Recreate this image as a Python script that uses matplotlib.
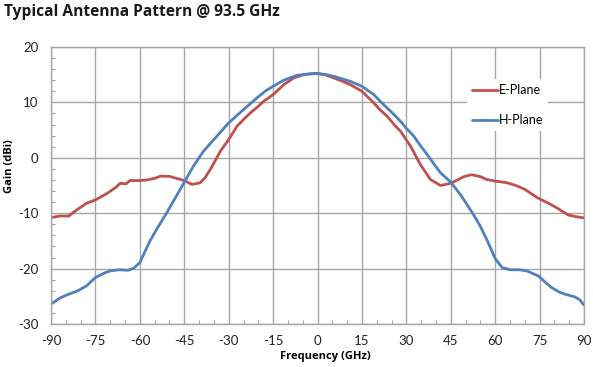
import matplotlib
matplotlib.use('Agg')
import matplotlib.pyplot as plt
import matplotlib.ticker as mticker

plt.rcParams.update({
    'font.family': ['Lato', 'DejaVu Sans'],
    'font.size': 9,
    'axes.unicode_minus': False,
})

BOLD_FONT = ['Open Sans', 'DejaVu Sans']

# angle (deg) and gain (dBi)
E_ANGLE = [-90, -87, -84, -81.3, -78, -75, -71, -68, -66.7, -64.7, -63.3, -60,
           -57.7, -55, -53, -50, -47, -45, -42.4, -39.6, -38, -36.2, -32.8, -30,
           -27.2, -25, -22.7, -20, -18.2, -15, -11.4, -8.1, -4.7, -2, 0, 2.5, 5.5,
           8, 11.1, 15, 19, 21, 23.5, 26, 28, 31.4, 34.7, 38.1, 41.5, 45, 49.4,
           52, 55, 57, 60, 64, 67, 70, 72, 74.5, 78, 81, 84.6, 87, 90]
E_GAIN = [-10.8, -10.5, -10.5, -9.4, -8.2, -7.6, -6.4, -5.3, -4.6, -4.7, -4.1, -4.1,
          -4.0, -3.7, -3.3, -3.35, -3.8, -4.1, -4.8, -4.5, -3.6, -2.1, 1.2, 3.3,
          5.7, 6.9, 8.1, 9.3, 10.2, 11.4, 13.2, 14.4, 15.0, 15.2, 15.2, 15.0, 14.4,
          13.9, 13.2, 12.0, 9.9, 8.7, 7.5, 5.9, 4.8, 2.1, -1.2, -3.9, -5.0, -4.6, -3.4,
          -3.05, -3.4, -3.9, -4.2, -4.5, -5.0, -5.7, -6.4, -7.3, -8.2, -9.1, -10.3, -10.6, -10.85]

H_ANGLE = [-90, -87, -84, -81, -78, -75, -72, -70, -67, -64, -62, -60, -58,
           -56.6, -54, -51, -48, -45, -41.9, -38.5, -36, -34, -32, -30, -27.5,
           -25, -20.5, -17.5, -15, -11.4, -6.9, -3, 0, 3, 5.5, 8, 11.1, 15, 19,
           21, 23.5, 26, 28, 30, 32.5, 35, 37, 39, 41.5, 45, 48.6, 52.6, 55,
           57.1, 60, 62.3, 65, 68, 70.6, 74.5, 77, 79, 81.5, 83.5, 86.9, 88.5, 90]
H_GAIN = [-26.4, -25.3, -24.6, -24.0, -23.1, -21.6, -20.8, -20.4, -20.2, -20.3, -19.9, -18.9, -16.6,
          -15.0, -12.6, -10.0, -7.2, -4.4, -1.5, 1.2, 2.7, 3.9, 5.1, 6.3, 7.5,
          8.7, 10.8, 12.1, 12.9, 14.0, 14.9, 15.1, 15.2, 15.0, 14.7, 14.3, 13.8, 12.9, 11.4,
          10.3, 9.0, 7.7, 6.6, 5.3, 3.9, 2.0, 0.6, -0.9, -2.7, -4.4, -6.9, -10.2, -12.4,
          -14.7, -18.2, -19.8, -20.2, -20.2, -20.4, -21.3, -22.5, -23.4, -24.2, -24.6, -25.1, -25.6, -26.6]

X_TICKS = list(range(-90, 91, 15))
Y_TICKS = list(range(-30, 21, 10))

RED = '#C0504D'
BLUE = '#4F81BD'
GRID = '#A6A6A6'

fig = plt.figure(figsize=(5.93, 3.67), dpi=100)
ax = fig.add_axes([0.086, 0.117, 0.899, 0.755])

ax.plot(E_ANGLE, E_GAIN, color=RED, linewidth=2.0, label='E-Plane', solid_capstyle='round')
ax.plot(H_ANGLE, H_GAIN, color=BLUE, linewidth=2.0, label='H-Plane', solid_capstyle='round')

ax.set_xlim(-90, 90)
ax.set_ylim(-30, 20)
ax.set_xticks(X_TICKS)
ax.set_yticks(Y_TICKS)
ax.xaxis.set_minor_locator(mticker.MultipleLocator(5))
ax.yaxis.set_minor_locator(mticker.MultipleLocator(2))
ax.tick_params(which='major', length=0, labelsize=9.5, colors='#222222')
ax.tick_params(axis='y', pad=9)
ax.tick_params(axis='x', pad=8)
ax.tick_params(which='minor', direction='in', length=3, color=GRID, width=0.8)
ax.grid(which='major', color=GRID, linewidth=1.0)
ax.set_axisbelow(True)
for s in ax.spines.values():
    s.set_color(GRID)
    s.set_linewidth(1.0)

ax.set_xlabel('Frequency (GHz)', fontsize=8, fontweight='bold', family=BOLD_FONT)
ax.xaxis.set_label_coords(0.514, -0.099)
ax.set_ylabel('Gain (dBi)', fontsize=8, fontweight='bold', family=BOLD_FONT)
ax.yaxis.set_label_coords(-0.068, 0.572)

leg = ax.legend(loc='upper right', bbox_to_anchor=(0.944, 0.906), frameon=True,
                fontsize=9, handlelength=2.1, handletextpad=0.05,
                labelspacing=1.45, borderpad=0.4)
leg.get_frame().set_edgecolor('none')
leg.get_frame().set_facecolor('white')
leg.get_frame().set_alpha(1.0)

fig.text(0.007, 0.966, 'Typical Antenna Pattern @ 93.5 GHz', fontsize=11.2,
         fontweight='bold', family=BOLD_FONT, color='#1a1a1a',
         ha='left', va='center')

fig.savefig('out.png', dpi=100)
